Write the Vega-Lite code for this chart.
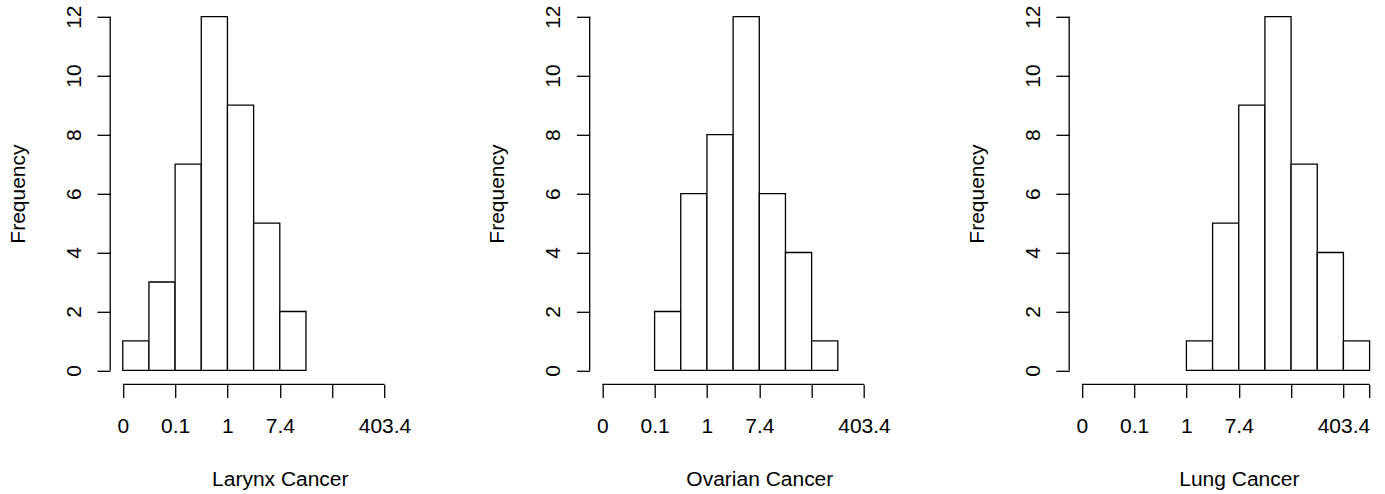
{
  "$schema": "https://vega.github.io/schema/vega-lite/v6.json",
  "padding": {"left": 7.2, "top": 2.8, "right": 0, "bottom": 0},
  "background": "white",
  "data": {"values": [
    {"cancer": "Larynx Cancer", "lo": -4, "hi": -3, "n": 1},
    {"cancer": "Larynx Cancer", "lo": -3, "hi": -2, "n": 3},
    {"cancer": "Larynx Cancer", "lo": -2, "hi": -1, "n": 7},
    {"cancer": "Larynx Cancer", "lo": -1, "hi": 0, "n": 12},
    {"cancer": "Larynx Cancer", "lo": 0, "hi": 1, "n": 9},
    {"cancer": "Larynx Cancer", "lo": 1, "hi": 2, "n": 5},
    {"cancer": "Larynx Cancer", "lo": 2, "hi": 3, "n": 2},
    {"cancer": "Ovarian Cancer", "lo": -2, "hi": -1, "n": 2},
    {"cancer": "Ovarian Cancer", "lo": -1, "hi": 0, "n": 6},
    {"cancer": "Ovarian Cancer", "lo": 0, "hi": 1, "n": 8},
    {"cancer": "Ovarian Cancer", "lo": 1, "hi": 2, "n": 12},
    {"cancer": "Ovarian Cancer", "lo": 2, "hi": 3, "n": 6},
    {"cancer": "Ovarian Cancer", "lo": 3, "hi": 4, "n": 4},
    {"cancer": "Ovarian Cancer", "lo": 4, "hi": 5, "n": 1},
    {"cancer": "Lung Cancer", "lo": 0, "hi": 1, "n": 1},
    {"cancer": "Lung Cancer", "lo": 1, "hi": 2, "n": 5},
    {"cancer": "Lung Cancer", "lo": 2, "hi": 3, "n": 9},
    {"cancer": "Lung Cancer", "lo": 3, "hi": 4, "n": 12},
    {"cancer": "Lung Cancer", "lo": 4, "hi": 5, "n": 7},
    {"cancer": "Lung Cancer", "lo": 5, "hi": 6, "n": 4},
    {"cancer": "Lung Cancer", "lo": 6, "hi": 7, "n": 1}
  ]},
  "bounds": "flush",
  "spacing": 139.5,
  "hconcat": [
    {
      "width": 339.2, "height": 381.5,
      "layer": [
        {
          "transform": [{"filter": "datum.cancer === 'Larynx Cancer'"}],
          "mark": {"type": "rect", "fill": "white", "stroke": "black", "strokeWidth": 1.3},
          "encoding": {
            "x": {"field": "lo", "type": "quantitative", "scale": {"domain": [-4.48, 8.48], "nice": false, "zero": false},
              "axis": {"values": [-4, -2, 0, 2, 4, 6], "labelExpr": "datum.value == -4 ? '0' : datum.value == -2 ? '0.1' : datum.value == 0 ? '1' : datum.value == 2 ? '7.4' : datum.value == 6 ? '403.4' : ''",
                "labelAngle": 0, "labelAlign": "center", "labelBaseline": "alphabetic", "labelPadding": 34.7,
                "title": "Larynx Cancer", "titleX": 169.6, "titleY": 101.4, "titleAlign": "center", "titleBaseline": "alphabetic", "titleAngle": 0}},
            "x2": {"field": "hi"},
            "y": {"field": "n", "type": "quantitative", "scale": {"domain": [-0.47, 12.47], "nice": false, "zero": false},
              "axis": {"values": [0, 2, 4, 6, 8, 10, 12], "labelAngle": -90, "labelAlign": "center", "labelBaseline": "alphabetic", "labelPadding": 16.7,
                "title": "Frequency", "titleX": -86, "titleY": 190.8, "titleAngle": -90, "titleAlign": "center", "titleBaseline": "alphabetic"}},
            "y2": {"datum": 0}
          }
        },
        {
          "data": {"values": [{"a": 1}]},
          "mark": {"type": "rule", "color": "black", "strokeWidth": 1.3},
          "encoding": {"x": {"datum": -4, "type": "quantitative"}, "x2": {"datum": 6}, "y": {"datum": -0.47, "type": "quantitative"}}
        },
        {
          "data": {"values": [{"a": 1}]},
          "mark": {"type": "rule", "color": "black", "strokeWidth": 1.3},
          "encoding": {"x": {"datum": -4.48, "type": "quantitative"}, "y": {"datum": 0, "type": "quantitative"}, "y2": {"datum": 12}}
        }
      ]
    },
    {
      "width": 339.2, "height": 381.5,
      "layer": [
        {
          "transform": [{"filter": "datum.cancer === 'Ovarian Cancer'"}],
          "mark": {"type": "rect", "fill": "white", "stroke": "black", "strokeWidth": 1.3},
          "encoding": {
            "x": {"field": "lo", "type": "quantitative", "scale": {"domain": [-4.48, 8.48], "nice": false, "zero": false},
              "axis": {"values": [-4, -2, 0, 2, 4, 6], "labelExpr": "datum.value == -4 ? '0' : datum.value == -2 ? '0.1' : datum.value == 0 ? '1' : datum.value == 2 ? '7.4' : datum.value == 6 ? '403.4' : ''",
                "labelAngle": 0, "labelAlign": "center", "labelBaseline": "alphabetic", "labelPadding": 34.7,
                "title": "Ovarian Cancer", "titleX": 169.6, "titleY": 101.4, "titleAlign": "center", "titleBaseline": "alphabetic", "titleAngle": 0}},
            "x2": {"field": "hi"},
            "y": {"field": "n", "type": "quantitative", "scale": {"domain": [-0.47, 12.47], "nice": false, "zero": false},
              "axis": {"values": [0, 2, 4, 6, 8, 10, 12], "labelAngle": -90, "labelAlign": "center", "labelBaseline": "alphabetic", "labelPadding": 16.7,
                "title": "Frequency", "titleX": -86, "titleY": 190.8, "titleAngle": -90, "titleAlign": "center", "titleBaseline": "alphabetic"}},
            "y2": {"datum": 0}
          }
        },
        {
          "data": {"values": [{"a": 1}]},
          "mark": {"type": "rule", "color": "black", "strokeWidth": 1.3},
          "encoding": {"x": {"datum": -4, "type": "quantitative"}, "x2": {"datum": 6}, "y": {"datum": -0.47, "type": "quantitative"}}
        },
        {
          "data": {"values": [{"a": 1}]},
          "mark": {"type": "rule", "color": "black", "strokeWidth": 1.3},
          "encoding": {"x": {"datum": -4.48, "type": "quantitative"}, "y": {"datum": 0, "type": "quantitative"}, "y2": {"datum": 12}}
        }
      ]
    },
    {
      "width": 314.8, "height": 381.5,
      "layer": [
        {
          "transform": [{"filter": "datum.cancer === 'Lung Cancer'"}],
          "mark": {"type": "rect", "fill": "white", "stroke": "black", "strokeWidth": 1.3},
          "encoding": {
            "x": {"field": "lo", "type": "quantitative", "scale": {"domain": [-4.48, 7.55], "nice": false, "zero": false},
              "axis": {"values": [-4, -2, 0, 2, 4, 6, 7], "labelExpr": "datum.value == -4 ? '0' : datum.value == -2 ? '0.1' : datum.value == 0 ? '1' : datum.value == 2 ? '7.4' : datum.value == 6 ? '403.4' : ''",
                "labelAngle": 0, "labelAlign": "center", "labelBaseline": "alphabetic", "labelPadding": 34.7,
                "title": "Lung Cancer", "titleX": 169.6, "titleY": 101.4, "titleAlign": "center", "titleBaseline": "alphabetic", "titleAngle": 0}},
            "x2": {"field": "hi"},
            "y": {"field": "n", "type": "quantitative", "scale": {"domain": [-0.47, 12.47], "nice": false, "zero": false},
              "axis": {"values": [0, 2, 4, 6, 8, 10, 12], "labelAngle": -90, "labelAlign": "center", "labelBaseline": "alphabetic", "labelPadding": 16.7,
                "title": "Frequency", "titleX": -86, "titleY": 190.8, "titleAngle": -90, "titleAlign": "center", "titleBaseline": "alphabetic"}},
            "y2": {"datum": 0}
          }
        },
        {
          "data": {"values": [{"a": 1}]},
          "mark": {"type": "rule", "color": "black", "strokeWidth": 1.3},
          "encoding": {"x": {"datum": -4, "type": "quantitative"}, "x2": {"datum": 7}, "y": {"datum": -0.47, "type": "quantitative"}}
        },
        {
          "data": {"values": [{"a": 1}]},
          "mark": {"type": "rule", "color": "black", "strokeWidth": 1.3},
          "encoding": {"x": {"datum": -4.48, "type": "quantitative"}, "y": {"datum": 0, "type": "quantitative"}, "y2": {"datum": 12}}
        }
      ]
    }
  ],
  "config": {
    "view": {"stroke": null},
    "font": "Liberation Sans",
    "axis": {
      "grid": false, "domain": false,
      "tickColor": "black", "tickWidth": 1.3, "tickSize": 13.3,
      "labelColor": "black", "labelFont": "Liberation Sans", "labelFontSize": 21,
      "titleFont": "Liberation Sans", "titleFontSize": 21, "titleFontWeight": "normal", "titleColor": "black",
      "labelOverlap": false, "labelFlush": false, "labelBound": false
    }
  }
}
